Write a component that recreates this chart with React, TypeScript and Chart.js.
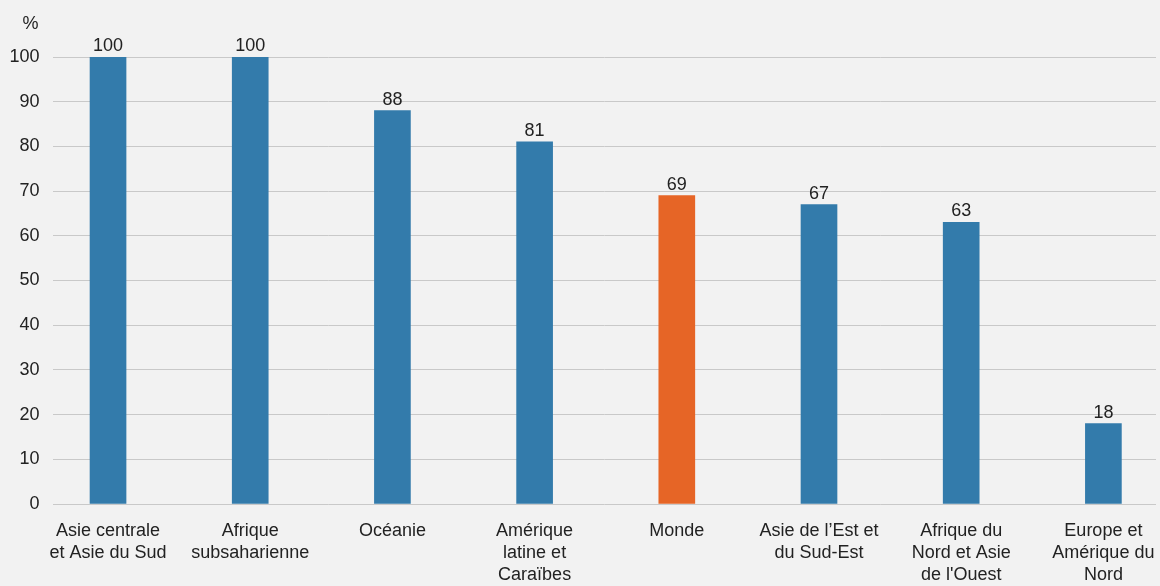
import React, { useEffect, useRef } from "react";
import { Chart, registerables } from "chart.js";

Chart.register(...registerables);

const categories: string[][] = [
  ["Asie centrale", "et Asie du Sud"],
  ["Afrique", "subsaharienne"],
  ["Océanie"],
  ["Amérique", "latine et", "Caraïbes"],
  ["Monde"],
  ["Asie de l’Est et", "du Sud-Est"],
  ["Afrique du", "Nord et Asie", "de l'Ouest"],
  ["Europe et", "Amérique du", "Nord"],
];
const values: number[] = [100, 100, 88, 81, 69, 67, 63, 18];
const highlightIndex = 4;
const yTicks: number[] = [0, 10, 20, 30, 40, 50, 60, 70, 80, 90, 100];
const unitLabel = "%";

const BLUE = "#337bab";
const ORANGE = "#e66526";
const TEXT = "#222222";
const GRID = "#c9c9c9";
const BG = "#f2f2f2";
const FONT = "'Liberation Sans', Arial, Helvetica, sans-serif";

export default function App() {
  const ref = useRef<HTMLCanvasElement | null>(null);

  useEffect(() => {
    document.body.style.margin = "0";
    document.body.style.background = BG;
    const canvas = ref.current;
    if (!canvas) return;

    const bgPlugin = {
      id: "bg",
      beforeDraw(chart: any) {
        const ctx = chart.ctx;
        ctx.save();
        ctx.fillStyle = BG;
        ctx.fillRect(0, 0, chart.width, chart.height);
        ctx.restore();
      },
    };

    const labelsPlugin = {
      id: "valueLabels",
      afterDatasetsDraw(chart: any) {
        const ctx = chart.ctx;
        const meta = chart.getDatasetMeta(0);
        ctx.save();
        ctx.font = `18px ${FONT}`;
        ctx.fillStyle = TEXT;
        ctx.textAlign = "center";
        ctx.textBaseline = "alphabetic";
        meta.data.forEach((bar: any, i: number) => {
          ctx.fillText(String(values[i]), bar.x, bar.y - 6);
        });
        ctx.textBaseline = "middle";
        ctx.fillText(unitLabel, 30.5, 24);
        ctx.restore();
      },
    };

    const chart = new Chart(canvas, {
      type: "bar",
      data: {
        datasets: [
          {
            data: values.map((v, i) => ({ x: i, y: v })),
            backgroundColor: values.map((_, i) => (i === highlightIndex ? ORANGE : BLUE)),
            barThickness: 36,
            borderWidth: 0,
          },
        ],
      },
      options: {
        animation: false,
        responsive: false,
        layout: { padding: { top: 57, right: 4, left: 0, bottom: 0 } },
        plugins: {
          legend: { display: false },
          tooltip: { enabled: false },
          title: { display: false },
        },
        scales: {
          x: {
            type: "linear",
            offset: false,
            min: -0.387,
            max: 7.37,
            grid: { display: false, drawTicks: false },
            border: { display: false },
            afterBuildTicks: (scale: any) => {
              scale.ticks = categories.map((_, i) => ({ value: i }));
            },
            afterFit: (scale: any) => {
              scale.height = 82;
              scale.paddingLeft = 0;
              scale.paddingRight = 0;
            },
            ticks: {
              autoSkip: false,
              maxRotation: 0,
              minRotation: 0,
              padding: 16,
              color: TEXT,
              font: { size: 18, family: FONT, lineHeight: 22 / 18 },
              callback: (value: any) => categories[Math.round(Number(value))] ?? "",
            },
          },
          y: {
            min: 0,
            max: 100,
            grid: { color: GRID, lineWidth: 1, drawTicks: false },
            border: { display: false },
            afterBuildTicks: (scale: any) => {
              scale.ticks = yTicks.map((v) => ({ value: v }));
            },
            afterFit: (scale: any) => {
              scale.width = 53;
            },
            ticks: {
              padding: 13.5,
              color: TEXT,
              font: { size: 18, family: FONT },
            },
          },
        },
      },
      plugins: [bgPlugin, labelsPlugin],
    } as any);

    return () => chart.destroy();
  }, []);

  return (
    <div style={{ width: 1160, height: 586, background: BG }}>
      <canvas ref={ref} width={1160} height={586} style={{ display: "block" }} />
    </div>
  );
}
